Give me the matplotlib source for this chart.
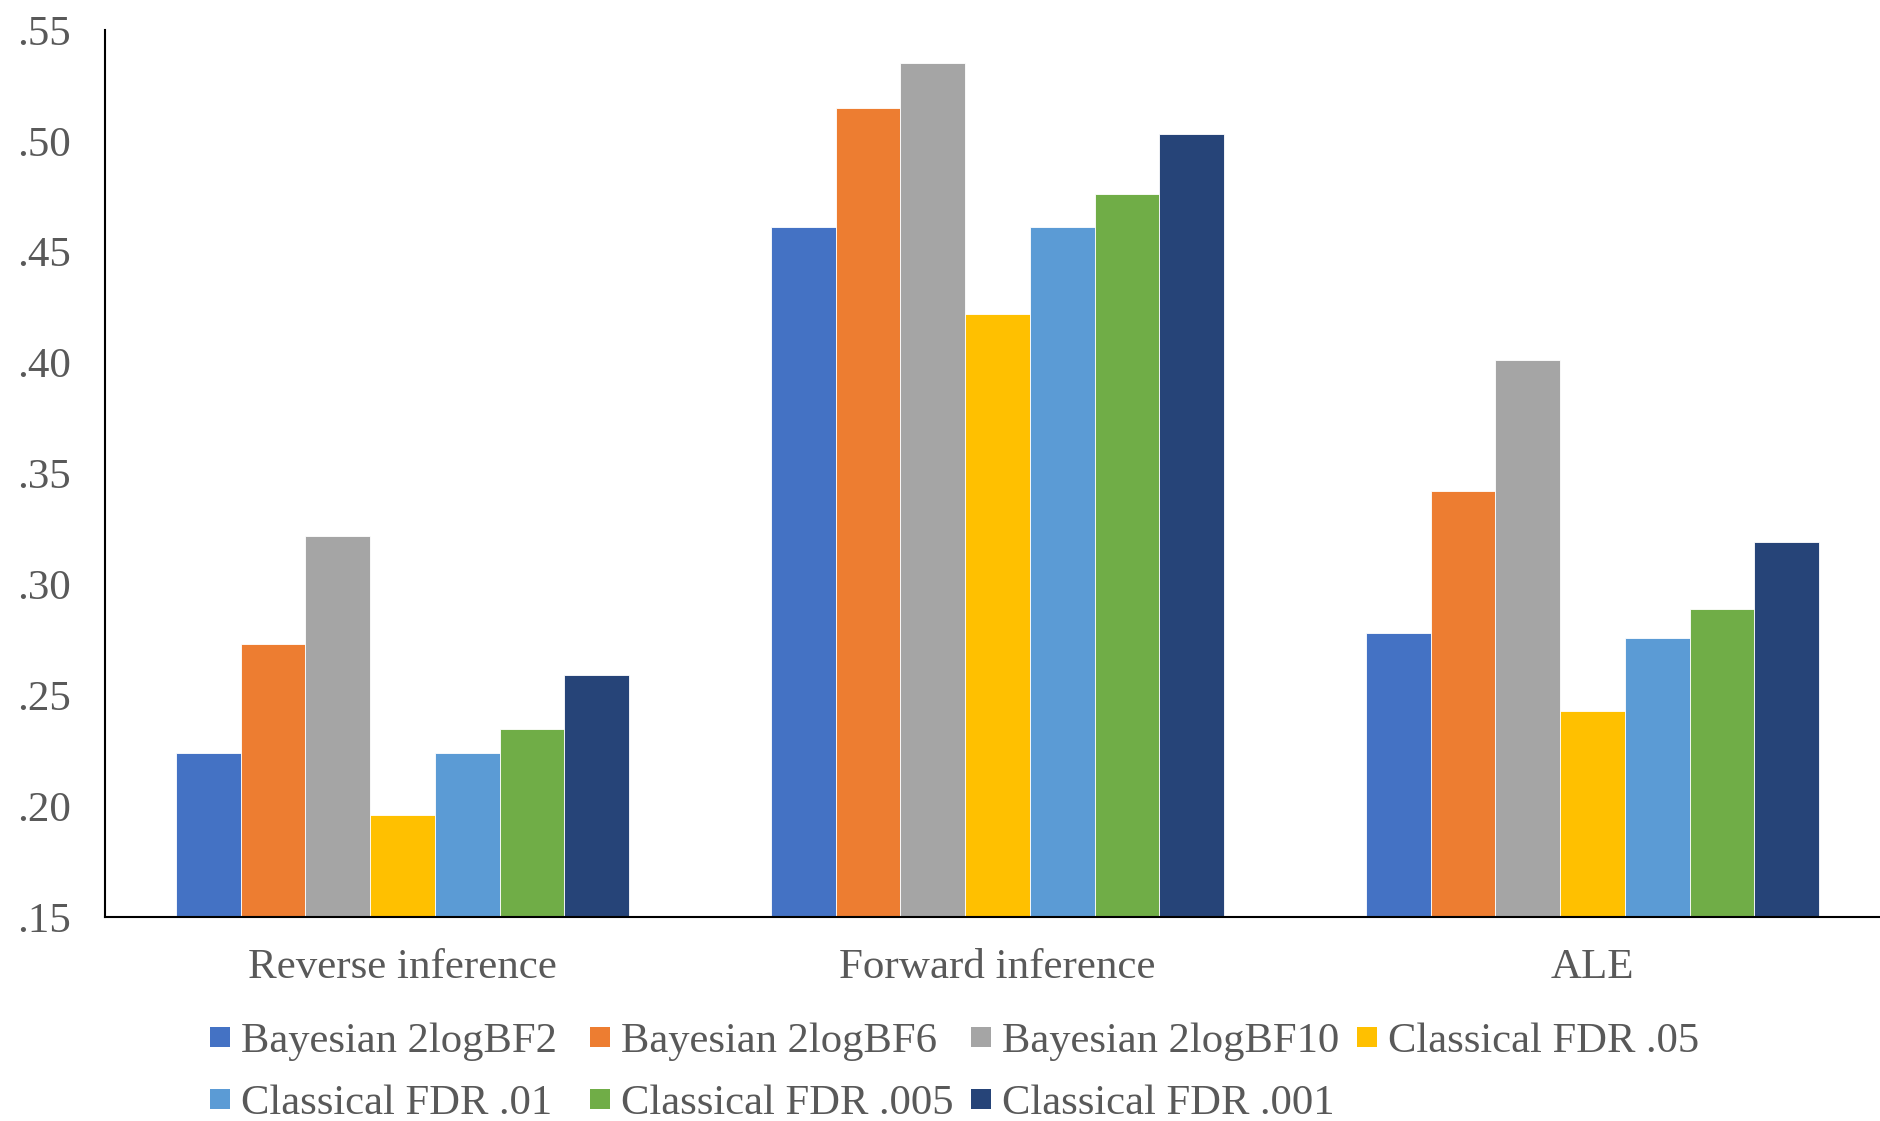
import matplotlib.pyplot as plt
from matplotlib.patches import Rectangle
import numpy as np

plt.rcParams["font.family"] = ["Liberation Serif", "DejaVu Serif"]

categories = ["Reverse inference", "Forward inference", "ALE"]
series = [
    "Bayesian 2logBF2",
    "Bayesian 2logBF6",
    "Bayesian 2logBF10",
    "Classical FDR .05",
    "Classical FDR .01",
    "Classical FDR .005",
    "Classical FDR .001",
]
colors = ["#4472C4", "#ED7D31", "#A5A5A5", "#FFC000", "#5B9BD5", "#70AD47", "#264478"]

# one row per series: reverse, forward, ALE
values = [
    [0.224, 0.461, 0.278],
    [0.273, 0.515, 0.342],
    [0.322, 0.535, 0.401],
    [0.196, 0.422, 0.243],
    [0.224, 0.461, 0.276],
    [0.235, 0.476, 0.289],
    [0.259, 0.503, 0.319],
]

yticks = [0.15, 0.20, 0.25, 0.30, 0.35, 0.40, 0.45, 0.50, 0.55]
ytick_labels = [".15", ".20", ".25", ".30", ".35", ".40", ".45", ".50", ".55"]

text_color = "#595959"
W, H = 1881, 1121
fig = plt.figure(figsize=(W / 100, H / 100), dpi=100)
ax = fig.add_axes([105 / W, 1 - 917 / H, 1776 / W, 887 / H])

x = np.arange(len(categories))
n = len(series)
bw = 0.761 / n
for i in range(n):
    offs = (i - (n - 1) / 2) * bw
    ax.bar(x + offs, values[i], bw, bottom=0, color=colors[i],
           edgecolor="white", linewidth=0.6, label=series[i])

ax.set_ylim(0.15, 0.55)
ax.set_xlim(-0.5, -0.5 + 1776 / 595)
ax.set_yticks(yticks)
ax.set_yticklabels(ytick_labels)
ax.set_xticks(x)
ax.set_xticklabels(categories)
ax.tick_params(axis="y", length=0, pad=0, labelsize=31, labelcolor=text_color)
ax.tick_params(axis="x", length=0, pad=23, labelsize=31, labelcolor=text_color)
for lab in ax.get_yticklabels():
    lab.set_horizontalalignment("left")
    lab.set_x(-88 / 1776)

for s in ["top", "right"]:
    ax.spines[s].set_visible(False)
for s in ["left", "bottom"]:
    ax.spines[s].set_linewidth(1.5)
    ax.spines[s].set_color("black")

# legend with fixed-width columns, four entries per row
col_x = [210, 590, 971, 1357]
row_y = [1037, 1099]
sq = 20
for k, name in enumerate(series):
    px = col_x[k % 4]
    py = row_y[k // 4]
    fig.patches.append(Rectangle((px / W, 1 - (py + sq / 2) / H), sq / W, sq / H,
                                 facecolor=colors[k], edgecolor="none",
                                 transform=fig.transFigure))
    fig.text((px + 31) / W, 1 - py / H, name, fontsize=30.7, color=text_color,
             ha="left", va="center_baseline")

fig.savefig("out.png", dpi=100)
